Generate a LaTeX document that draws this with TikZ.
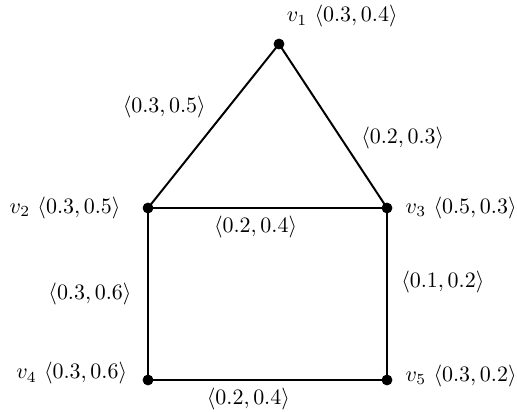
\documentclass[tikz,border=0pt]{standalone}
\usepackage{amsmath,amssymb}
\usepackage{tikz,tkz-euclide}

\begin{document}
\begin{tikzpicture}[scale=0.64,>=stealth, line join=round, line cap=round]
	\useasboundingbox (-3.7,-0.775) rectangle (9.225,9.5);
	\tkzDefPoints{3.275/8.4/v1, 0/4.3/v2, 5.975/4.3/v3, 0/0/v4, 5.975/0/v5}
	\tkzDrawSegments[line width=0.9pt](v1,v2 v1,v3 v2,v3 v2,v4 v3,v5 v4,v5)
	\tkzDrawPoints[fill=black,size=4.5](v1,v2,v3,v4,v5)
	\tkzLabelPoint[above right,yshift=4pt](v1){$v_1$ $\langle 0.3, 0.4\rangle$}
	\tkzLabelPoint[left=9pt](v2){$v_2$ $\langle 0.3, 0.5\rangle$}
	\tkzLabelPoint[right=5pt](v3){$v_3$ $\langle 0.5, 0.3\rangle$}
	\tkzLabelPoint[left=6pt,yshift=3pt](v4){$v_4$ $\langle 0.3, 0.6\rangle$}
	\tkzLabelPoint[right=5pt,yshift=2pt](v5){$v_5$ $\langle 0.3, 0.2\rangle$}
	\tkzLabelSegment[above left](v2,v1){$\langle 0.3, 0.5\rangle$}
	\tkzLabelSegment[above right,pos=0.69](v1,v3){$\langle 0.2, 0.3\rangle$}
	\tkzLabelSegment[below,pos=0.45](v2,v3){$\langle 0.2, 0.4\rangle$}
	\tkzLabelSegment[left=4pt](v2,v4){$\langle 0.3, 0.6\rangle$}
	\tkzLabelSegment[right=3pt,pos=0.43](v3,v5){$\langle 0.1, 0.2\rangle$}
	\tkzLabelSegment[below,pos=0.42](v4,v5){$\langle 0.2, 0.4\rangle$}
\end{tikzpicture}
\end{document}
